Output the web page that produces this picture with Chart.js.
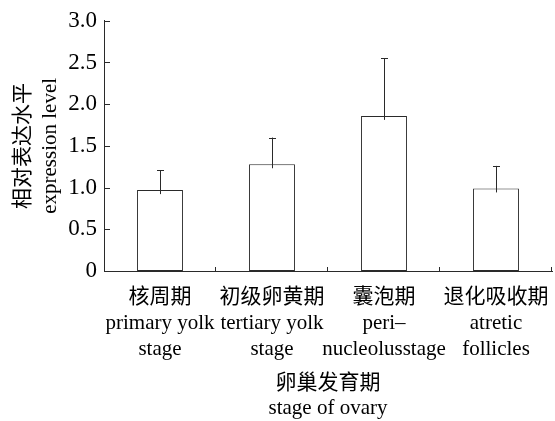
<!DOCTYPE html>
<html>
<head>
<meta charset="utf-8">
<script src="https://cdn.jsdelivr.net/npm/chart.js@4.4.1/dist/chart.umd.min.js"></script>
<style>
  html, body { margin: 0; padding: 0; background: #fff; }
  canvas { display: block; }
</style>
</head>
<body>
<canvas id="expChart" width="555" height="421"></canvas>
<script>
// data
const stages = [
    ['核周期', 'primary yolk', 'stage'],
    ['初级卵黄期', 'tertiary yolk', 'stage'],
    ['囊泡期', 'peri–', 'nucleolusstage'],
    ['退化吸收期', 'atretic', 'follicles']
];
const expression = [0.97, 1.28, 1.86, 0.99];
const errUpper = [0.24, 0.32, 0.69, 0.27];
const yTicks = [0, 0.5, 1.0, 1.5, 2.0, 2.5, 3.0];

const FONT = '"Liberation Serif", "Times New Roman", "Noto Sans CJK SC", serif';
const LINE = '#2a2a2a';

// inward tick marks + error bars, all from the scales
const extras = {
    id: 'extras',
    afterDatasetsDraw(chart) {
        const ctx = chart.ctx;
        const x = chart.scales.x;
        const y = chart.scales.y;
        ctx.save();
        ctx.strokeStyle = LINE;
        ctx.lineWidth = 1;

        // y ticks pointing in
        yTicks.forEach(v => {
            const py = Math.round(y.getPixelForValue(v)) + 0.5;
            ctx.beginPath();
            ctx.moveTo(x.left, py);
            ctx.lineTo(x.left + 6, py);
            ctx.stroke();
        });

        // x ticks at category borders
        for (let i = 0; i < stages.length; i++) {
            const px = Math.round(x.getPixelForValue(i + 0.5)) - 0.5;
            ctx.beginPath();
            ctx.moveTo(px, y.bottom);
            ctx.lineTo(px, y.bottom - 4);
            ctx.stroke();
        }

        // error bars (upper only)
        const meta = chart.getDatasetMeta(0);
        meta.data.forEach((bar, i) => {
            const px = Math.round(bar.x) + 0.5;
            const top = y.getPixelForValue(expression[i]);
            const end = y.getPixelForValue(expression[i] + errUpper[i]);
            ctx.beginPath();
            ctx.moveTo(px, top + 4);
            ctx.lineTo(px, end);
            ctx.moveTo(px - 3.5, Math.round(end) + 0.5);
            ctx.lineTo(px + 3.5, Math.round(end) + 0.5);
            ctx.stroke();
        });
        ctx.restore();
    }
};

new Chart(document.getElementById('expChart'), {
    type: 'bar',
    data: {
        labels: stages,
        datasets: [{
            data: expression,
            backgroundColor: '#fff',
            borderColor: LINE,
            borderWidth: 1,
            borderSkipped: false,
            barPercentage: 0.82,
            categoryPercentage: 0.5
        }]
    },
    options: {
        responsive: false,
        animation: false,
        layout: { padding: { top: 19, right: 3, left: 0, bottom: 0 } },
        plugins: {
            legend: { display: false },
            tooltip: { enabled: false }
        },
        scales: {
            x: {
                grid: { display: false, drawTicks: false },
                border: { display: true, color: LINE, width: 1 },
                ticks: {
                    color: '#000',
                    padding: 14,
                    maxRotation: 0,
                    autoSkip: false,
                    font: { family: FONT, size: 21, lineHeight: 1.22 }
                },
                title: {
                    display: true,
                    text: ['卵巢发育期', 'stage of ovary'],
                    color: '#000',
                    padding: { top: 0, bottom: 0 },
                    font: { family: FONT, size: 21, lineHeight: 1.2 }
                },
                afterFit(scale) {
                    scale.height = 150;
                    // labels may spill a little, keep the axis full width
                    scale.paddingLeft = 0;
                    scale.paddingRight = 0;
                }
            },
            y: {
                min: 0,
                max: 3,
                grid: { display: false, drawTicks: false },
                border: { display: true, color: LINE, width: 1 },
                ticks: {
                    stepSize: 0.5,
                    color: '#000',
                    padding: 7,
                    font: { family: FONT, size: 23 },
                    callback: v => v === 0 ? '0' : v.toFixed(1)
                },
                title: {
                    display: true,
                    text: ['相对表达水平', 'expression level'],
                    color: '#000',
                    padding: { top: 10, bottom: 0 },
                    font: { family: FONT, size: 21, lineHeight: 1.3 }
                },
                afterFit(scale) { scale.width = 104; }
            }
        }
    },
    plugins: [extras]
});
</script>
</body>
</html>
